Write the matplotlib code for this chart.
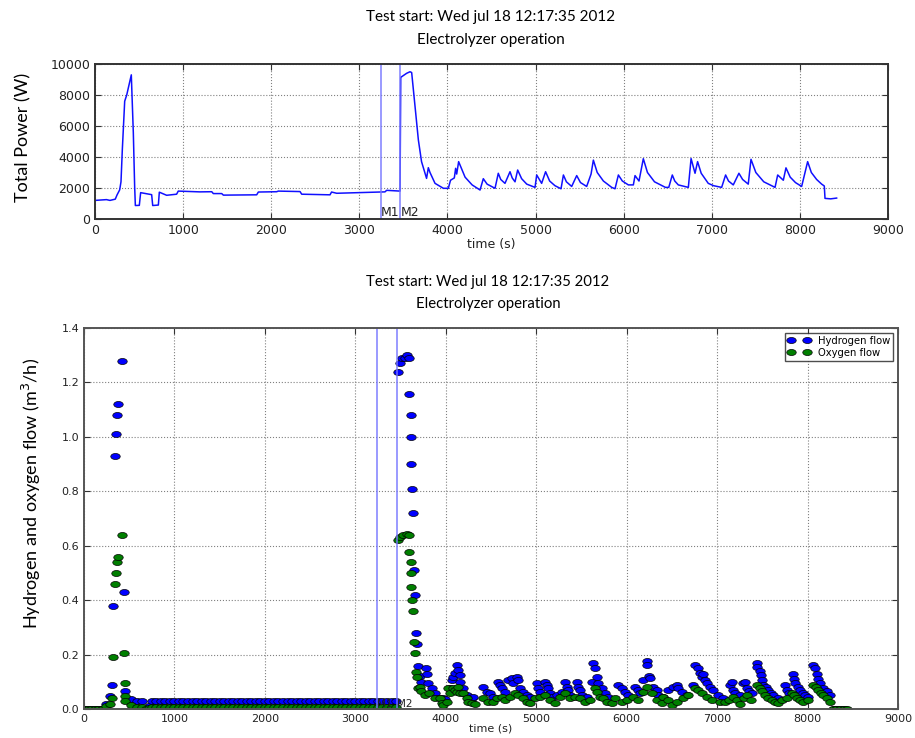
import numpy as np
import matplotlib
matplotlib.use("Agg")
import matplotlib.pyplot as plt
from matplotlib.path import Path

# electrolyzer test of Wed jul 18 2012
power_t = [0, 130, 170, 230, 250, 280, 295, 310, 337, 360, 412, 435, 450, 458,
           503, 518, 643, 655, 719, 730, 813, 926, 945, 1190, 1325, 1343, 1438,
           1457, 1835, 1854, 2062, 2080, 2327, 2346, 2667, 2685, 2743, 3235,
           3291, 3310, 3462, 3470, 3537, 3575, 3594, 3632, 3670, 3706, 3763,
           3783, 3802, 3859, 3954, 4010, 4035, 4078, 4093, 4105, 4127, 4200,
           4280, 4370, 4407, 4450, 4540, 4577, 4605, 4653, 4710, 4735, 4767,
           4797, 4842, 4900, 4994, 5013, 5069, 5114, 5160, 5220, 5289, 5316,
           5350, 5410, 5467, 5510, 5580, 5630, 5656, 5700, 5770, 5864, 5902,
           5940, 5985, 6053, 6110, 6129, 6174, 6223, 6270, 6350, 6474, 6512,
           6552, 6580, 6620, 6734, 6765, 6810, 6839, 6880, 6960, 7020, 7112,
           7157, 7190, 7244, 7308, 7350, 7414, 7445, 7500, 7590, 7718, 7748,
           7812, 7842, 7890, 7950, 8020, 8088, 8130, 8190, 8247, 8277, 8285,
           8350, 8417]
power_w = [1200, 1250, 1200, 1280, 1550, 1880, 2400, 4460, 7600, 8000, 9300,
           5550, 2100, 870, 880, 1700, 1570, 870, 900, 1730, 1530, 1600, 1800,
           1750, 1760, 1640, 1640, 1540, 1560, 1740, 1760, 1800, 1770, 1600,
           1560, 1740, 1660, 1740, 1750, 1850, 1800, 9140, 9400, 9500, 9450,
           7245, 5100, 3700, 2620, 3310, 3000, 2300, 1980, 1980, 2500, 2650,
           3270, 2900, 3700, 2700, 2200, 1870, 2600, 2250, 1980, 2950, 2550,
           2300, 3050, 2650, 2400, 3160, 2600, 2250, 2040, 2840, 2300, 3050,
           2450, 2150, 1950, 2840, 2400, 2100, 2800, 2350, 2100, 2900, 3800,
           3000, 2450, 2040, 1950, 2840, 2450, 2200, 2200, 2800, 2450, 3890,
           3000, 2400, 2040, 2040, 2840, 2450, 2200, 2040, 3900, 2950, 3700,
           2950, 2300, 2150, 2040, 2840, 2450, 2200, 2950, 2550, 2250, 3850,
           3000, 2400, 2040, 2840, 2500, 3300, 2700, 2350, 2100, 3700, 3000,
           2550, 2250, 2130, 1330, 1300, 1350]

# first production peak
start_h2_t = [0, 40, 80, 120, 160, 200, 243, 287, 306, 324, 343, 350, 361,
              376, 424, 442, 457, 523, 582, 638, 690, 720]
start_h2 = [0, 0, 0, 0, 0, 0, 0.02, 0.048, 0.088, 0.38, 0.93, 1.01, 1.08,
            1.12, 1.28, 0.43, 0.067, 0.036, 0.028, 0.028, 0.005, 0.01]
start_o2_t = [0, 40, 80, 120, 160, 200, 243, 287, 306, 324, 343, 350, 361,
              376, 424, 442, 450, 452, 457, 523, 582, 640, 690, 720]
start_o2 = [0, 0, 0, 0, 0, 0, 0.01, 0.02, 0.04, 0.19, 0.458, 0.50, 0.54,
            0.557, 0.64, 0.207, 0.097, 0.048, 0.028, 0.015, 0.006, 0.006,
            0.0, 0.003]

# standby between the two runs
flat_t = [750, 800, 850, 900, 950, 1000, 1050, 1100, 1150, 1200, 1250,
          1300, 1350, 1400, 1450, 1500, 1550, 1600, 1650, 1700, 1750, 1800,
          1850, 1900, 1950, 2000, 2050, 2100, 2150, 2200, 2250, 2300, 2350,
          2400, 2450, 2500, 2550, 2600, 2650, 2700, 2750, 2800, 2850, 2900,
          2950, 3000, 3050, 3100, 3150, 3200, 3250, 3300, 3350, 3400, 3450]
flat_h2 = [0.028, 0.028, 0.028, 0.028, 0.028, 0.028, 0.028, 0.028, 0.028, 0.028, 0.028,
           0.028, 0.028, 0.028, 0.028, 0.028, 0.028, 0.028, 0.028, 0.028, 0.028, 0.028,
           0.028, 0.028, 0.028, 0.028, 0.028, 0.028, 0.028, 0.028, 0.028, 0.028, 0.028,
           0.028, 0.028, 0.028, 0.028, 0.028, 0.028, 0.028, 0.028, 0.028, 0.028, 0.028,
           0.028, 0.028, 0.028, 0.028, 0.028, 0.028, 0.028, 0.028, 0.028, 0.028, 0.028]
flat_o2 = [0.008, 0.006, 0.008, 0.006, 0.008, 0.006, 0.008, 0.006, 0.008, 0.006, 0.008,
           0.006, 0.008, 0.006, 0.008, 0.006, 0.008, 0.006, 0.008, 0.006, 0.008, 0.006,
           0.008, 0.006, 0.008, 0.006, 0.008, 0.006, 0.008, 0.006, 0.008, 0.006, 0.008,
           0.006, 0.008, 0.006, 0.008, 0.006, 0.008, 0.006, 0.008, 0.006, 0.008, 0.006,
           0.008, 0.006, 0.008, 0.006, 0.008, 0.006, 0.008, 0.006, 0.008, 0.006, 0.008]

# second run after M2
run_h2_t = [3468, 3494, 3513, 3549, 3575, 3597, 3597, 3612, 3620, 3620, 3627,
            3638, 3645, 3656, 3675, 3682, 3697, 3710, 3725, 3781, 3790, 3800,
            3844, 3880, 3936, 3973, 3990, 4047, 4065, 4084, 4102, 4120, 4139,
            4157, 4157, 4194, 4231, 4286, 4305, 4415, 4452, 4489, 4526, 4582,
            4600, 4618, 4655, 4692, 4729, 4747, 4784, 4802, 4821, 4858, 4895,
            4931, 5005, 5024, 5042, 5097, 5116, 5134, 5153, 5171, 5226, 5282,
            5319, 5337, 5356, 5374, 5447, 5466, 5484, 5503, 5558, 5613, 5631,
            5650, 5669, 5687, 5724, 5761, 5798, 5908, 5945, 5982, 6019, 6093,
            6130, 6148, 6185, 6222, 6228, 6245, 6258, 6295, 6332, 6350, 6406,
            6461, 6516, 6553, 6572, 6609, 6664, 6738, 6756, 6793, 6812, 6830,
            6849, 6867, 6886, 6923, 6960, 7015, 7070, 7143, 7160, 7180, 7200,
            7254, 7291, 7310, 7328, 7350, 7383, 7438, 7445, 7475, 7480, 7495,
            7512, 7540, 7567, 7600, 7623, 7678, 7752, 7770, 7790, 7836, 7850,
            7862, 7890, 7918, 7945, 7973, 8000, 8064, 8080, 8101, 8120, 8138,
            8175, 8212, 8249, 8290, 8330, 8370, 8410]
run_h2 = [1.24, 1.27, 1.29, 1.29, 1.30, 1.29, 1.158, 1.08, 1.0, 0.90, 0.81,
          0.72, 0.51, 0.42, 0.278, 0.238, 0.158, 0.12, 0.10, 0.15, 0.13, 0.095,
          0.076, 0.058, 0.039, 0.039, 0.035, 0.076, 0.107, 0.119, 0.131, 0.162, 0.143,
          0.125, 0.10, 0.076, 0.051, 0.039, 0.045, 0.082, 0.064, 0.058, 0.045, 0.10,
          0.088, 0.076, 0.064, 0.107, 0.113, 0.094, 0.119, 0.107, 0.076, 0.064, 0.051,
          0.045, 0.094, 0.076, 0.064, 0.10, 0.088, 0.076, 0.058, 0.045, 0.051, 0.064,
          0.10, 0.082, 0.07, 0.051, 0.10, 0.082, 0.07, 0.051, 0.045, 0.10, 0.168,
          0.15, 0.119, 0.097, 0.076, 0.058, 0.045, 0.088, 0.076, 0.064, 0.051, 0.082,
          0.07, 0.058, 0.107, 0.178, 0.163, 0.12, 0.113, 0.082, 0.07, 0.05, 0.045,
          0.07, 0.082, 0.088, 0.076, 0.064, 0.051, 0.09, 0.162, 0.15, 0.131, 0.119,
          0.13, 0.107, 0.094, 0.082, 0.07, 0.051, 0.039, 0.09, 0.10, 0.07, 0.058,
          0.05, 0.095, 0.10, 0.077, 0.065, 0.058, 0.17, 0.153, 0.14, 0.125, 0.105,
          0.09, 0.08, 0.07, 0.058, 0.05, 0.04, 0.09, 0.07, 0.06, 0.13, 0.11,
          0.095, 0.082, 0.07, 0.058, 0.05, 0.045, 0.16, 0.15, 0.13, 0.11, 0.095,
          0.077, 0.065, 0.05, 0, 0, 0, 0]
run_o2_t = [3468, 3494, 3524, 3575, 3597, 3597, 3612, 3620, 3620, 3627, 3638,
            3645, 3656, 3675, 3682, 3697, 3715, 3730, 3770, 3818, 3880, 3936,
            3960, 3973, 4010, 4028, 4047, 4084, 4102, 4120, 4139, 4157, 4194,
            4231, 4250, 4286, 4323, 4415, 4471, 4526, 4563, 4618, 4655, 4710,
            4765, 4802, 4858, 4895, 4931, 4987, 5042, 5097, 5153, 5208, 5263,
            5319, 5374, 5429, 5484, 5540, 5595, 5650, 5669, 5705, 5742, 5779,
            5835, 5871, 5945, 6001, 6075, 6130, 6185, 6222, 6277, 6332, 6387,
            6406, 6461, 6498, 6553, 6627, 6682, 6756, 6793, 6830, 6886, 6941,
            7033, 7088, 7130, 7180, 7220, 7254, 7300, 7328, 7380, 7438, 7475,
            7500, 7530, 7565, 7604, 7640, 7678, 7720, 7770, 7826, 7850, 7881,
            7920, 7955, 8000, 8064, 8090, 8120, 8150, 8175, 8210, 8249, 8285,
            8320, 8360, 8400, 8432]
run_o2 = [0.62, 0.633, 0.64, 0.643, 0.64, 0.577, 0.54, 0.50, 0.448, 0.40, 0.36,
          0.247, 0.207, 0.137, 0.118, 0.078, 0.082, 0.065, 0.05, 0.058, 0.04, 0.039,
          0.021, 0.015, 0.027, 0.076, 0.058, 0.076, 0.07, 0.064, 0.082, 0.058, 0.058,
          0.039, 0.027, 0.021, 0.02, 0.039, 0.027, 0.027, 0.039, 0.045, 0.033, 0.045,
          0.058, 0.051, 0.039, 0.027, 0.021, 0.039, 0.045, 0.051, 0.033, 0.021, 0.045,
          0.058, 0.039, 0.045, 0.039, 0.027, 0.033, 0.076, 0.064, 0.045, 0.039, 0.027,
          0.021, 0.039, 0.027, 0.033, 0.045, 0.033, 0.064, 0.082, 0.058, 0.033, 0.021,
          0.045, 0.033, 0.015, 0.027, 0.039, 0.051, 0.076, 0.07, 0.058, 0.045, 0.033,
          0.027, 0.027, 0.033, 0.045, 0.033, 0.02, 0.04, 0.05, 0.033, 0.09, 0.077,
          0.065, 0.05, 0.04, 0.033, 0.027, 0.023, 0.033, 0.04, 0.058, 0.05, 0.04,
          0.033, 0.027, 0.033, 0.09, 0.08, 0.07, 0.058, 0.05, 0.04, 0.027, 0,
          0, 0, 0, 0]

marker_t = [3245, 3465]
marker_names = ["M1", "M2"]

title_lines = ["Test start: Wed jul 18 12:17:35 2012", "Electrolyzer operation"]
label_font = "Lato"

h2_t = start_h2_t + flat_t + run_h2_t
h2_flow = start_h2 + flat_h2 + run_h2
o2_t = start_o2_t + flat_t + run_o2_t
o2_flow = start_o2 + flat_o2 + run_o2

# slightly flattened dot used for the flow samples
circ = Path.unit_circle()
dot = Path(circ.vertices * np.array([1.0, 0.64]), circ.codes)

W, H = 915, 738
fig = plt.figure(figsize=(W / 100, H / 100), dpi=100)


def box(l, t, r, b):
    return [l / W, 1 - b / H, (r - l) / W, (b - t) / H]


def style(ax, size, spine_col):
    ax.grid(True, color="0.5", linestyle=":", linewidth=0.8)
    ax.set_axisbelow(True)
    ax.tick_params(direction="in", top=True, right=True, labelsize=size,
                   labelcolor="#222222", length=4, color="#333333")
    for s in ax.spines.values():
        s.set_color(spine_col)
        s.set_linewidth(1.4)


# ---- total power
ax1 = fig.add_axes(box(95, 64, 888, 219))
ax1.plot(power_t, power_w, color="#1010ff", lw=1.1)
for t in marker_t:
    ax1.axvline(t, color="#7777ff", lw=1.3, alpha=0.8)
for t, name in zip(marker_t, marker_names):
    ax1.text(t, 0, name, fontsize=9, color="#222222", ha="left", va="bottom")
ax1.set_xlim(0, 9000)
ax1.set_ylim(0, 10000)
ax1.set_xticks(np.arange(0, 9001, 1000))
ax1.set_yticks(np.arange(0, 10001, 2000))
style(ax1, 9, "#333333")
ax1.set_xlabel("time (s)", fontsize=9, color="#222222", labelpad=1)

fig.text(491 / W, 1 - 17 / H, title_lines[0], family=label_font, fontsize=11,
         ha="center", va="center")
fig.text(491 / W, 1 - 40 / H, title_lines[1], family=label_font, fontsize=11,
         ha="center", va="center")
fig.text(23 / W, 1 - 137 / H, "Total Power (W)", family=label_font,
         fontsize=13, rotation=90, ha="center", va="center")

# ---- hydrogen / oxygen flow
ax2 = fig.add_axes(box(84, 328, 898, 709))
ax2.plot(h2_t, h2_flow, linestyle="none", marker=dot, markersize=6.8,
         markerfacecolor="#0000ff", markeredgecolor="black",
         markeredgewidth=0.5, label="Hydrogen flow")
ax2.plot(o2_t, o2_flow, linestyle="none", marker=dot, markersize=6.8,
         markerfacecolor="#007f00", markeredgecolor="black",
         markeredgewidth=0.5, label="Oxygen flow")
for t in marker_t:
    ax2.axvline(t, color="#7777ff", lw=1.3, alpha=0.8)
for t, name in zip(marker_t, marker_names):
    ax2.text(t, 0, name, fontsize=7.5, color="#222222", ha="left", va="bottom")
ax2.set_xlim(0, 9000)
ax2.set_ylim(0, 1.4)
ax2.set_xticks(np.arange(0, 9001, 1000))
ax2.set_yticks(np.arange(0, 1.41, 0.2))
ax2.set_yticklabels(["%.1f" % v for v in np.arange(0, 1.41, 0.2)])
style(ax2, 8, "#555555")
ax2.set_xlabel("time (s)", fontsize=8, color="#222222", labelpad=0)
leg = ax2.legend(loc="upper right", numpoints=2, fontsize=7.2, fancybox=False,
                 borderaxespad=0.45, handlelength=2.2, handletextpad=0.8,
                 labelspacing=0.2, borderpad=0.3)
leg.get_frame().set_edgecolor("#222222")
leg.get_frame().set_linewidth(1.0)

fig.text(488 / W, 1 - 282 / H, title_lines[0], family=label_font, fontsize=10.7,
         ha="center", va="center")
fig.text(488 / W, 1 - 304 / H, title_lines[1], family=label_font, fontsize=10.7,
         ha="center", va="center")
fig.text(31 / W, 1 - 493 / H, "Hydrogen and oxygen flow (m$^3$/h)",
         family=label_font, fontsize=13, rotation=90, ha="center", va="center")

fig.savefig("out.png", dpi=100)
